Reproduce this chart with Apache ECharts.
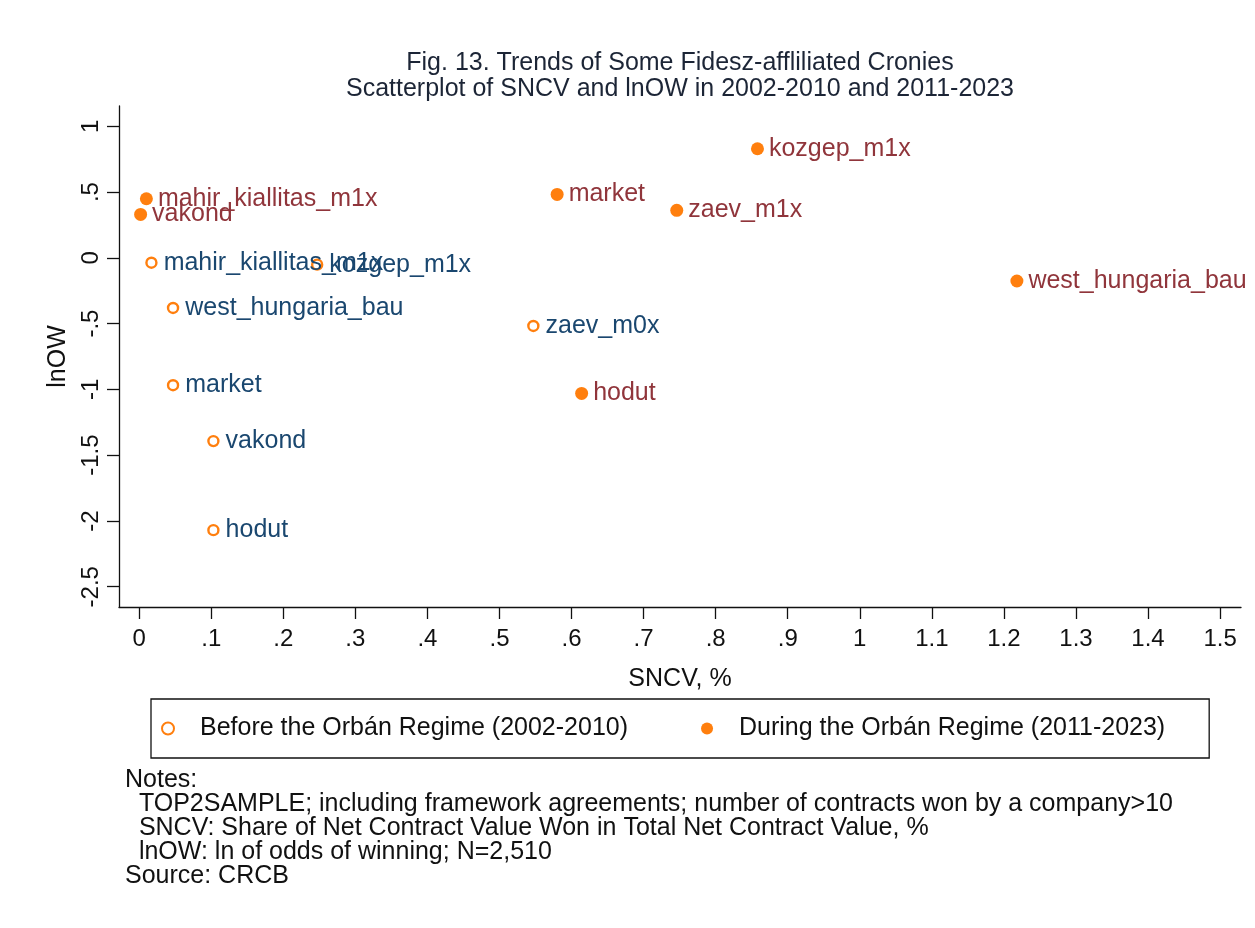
<!DOCTYPE html>
<html>
<head>
<meta charset="utf-8">
<script src="https://cdn.jsdelivr.net/npm/echarts@6/dist/echarts.min.js"></script>
<style>
  html, body { margin: 0; padding: 0; background: #fff; }
  #chart { width: 1255px; height: 928px; }
</style>
</head>
<body>
<div id="chart"></div>
<script>
// tick positions
const xTicks = [0, 0.1, 0.2, 0.3, 0.4, 0.5, 0.6, 0.7, 0.8, 0.9, 1, 1.1, 1.2, 1.3, 1.4, 1.5];
const yTicks = [-2.5, -2, -1.5, -1, -0.5, 0, 0.5, 1];

// 2002-2010
const beforeNames = ['mahir_kiallitas_m1x', 'kozgep_m1x', 'west_hungaria_bau', 'zaev_m0x', 'market', 'vakond', 'hodut'];
const beforeSNCV = [0.017, 0.247, 0.047, 0.547, 0.047, 0.103, 0.103];
const beforeLnOW = [-0.037, -0.052, -0.381, -0.518, -0.968, -1.393, -2.07];

// 2011-2023
const duringNames = ['mahir_kiallitas_m1x', 'vakond', 'market', 'zaev_m1x', 'kozgep_m1x', 'west_hungaria_bau', 'hodut'];
const duringSNCV = [0.010, 0.002, 0.580, 0.746, 0.858, 1.218, 0.614];
const duringLnOW = [0.449, 0.33, 0.482, 0.361, 0.829, -0.176, -1.031];

const FONT = '"Liberation Sans", Arial, sans-serif';
const ORANGE = '#ff7f0e';

// stata style: drop the leading zero
const stataNum = v => String(v).replace(/^(-?)0\./, '$1.');

const chart = echarts.init(document.getElementById('chart'));

const option = {
  animation: false,
  textStyle: { fontFamily: FONT },
  grid: { left: 119, right: 14, top: 106, bottom: 321 },
  xAxis: {
    type: 'value',
    min: -0.028,
    max: 1.529,
    name: 'SNCV, %',
    nameLocation: 'middle',
    nameGap: 60,
    nameTextStyle: { fontSize: 25, color: '#111', fontFamily: FONT },
    axisLine: { show: true, onZero: false, lineStyle: { color: '#111', width: 1.3 } },
    axisTick: { show: true, length: 12, lineStyle: { color: '#111', width: 1.3 }, customValues: xTicks },
    axisLabel: { fontSize: 24, color: '#111', margin: 20, formatter: stataNum, customValues: xTicks },
    splitLine: { show: false }
  },
  yAxis: {
    type: 'value',
    min: -2.654,
    max: 1.154,
    name: 'lnOW',
    nameLocation: 'middle',
    nameGap: 47,
    nameTextStyle: { fontSize: 25, color: '#111', fontFamily: FONT },
    axisLine: { show: true, onZero: false, lineStyle: { color: '#111', width: 1.3 } },
    axisTick: { show: true, length: 12, lineStyle: { color: '#111', width: 1.3 }, customValues: yTicks },
    axisLabel: { fontSize: 24, color: '#111', margin: 16, rotate: 90, formatter: stataNum, customValues: yTicks },
    splitLine: { show: false }
  },
  legend: {
    left: 151,
    top: 699,
    padding: [17, 44, 17, 10],
    borderColor: '#111',
    borderWidth: 1.3,
    itemGap: 73,
    itemWidth: 14,
    itemHeight: 12,
    textStyle: { fontSize: 25, color: '#111', padding: [0, 0, 0, 20], fontFamily: FONT },
    data: ['Before the Orbán Regime (2002-2010)', 'During the Orbán Regime (2011-2023)']
  },
  graphic: [
    {
      type: 'text',
      x: 680,
      y: 50,
      style: {
        text: 'Fig. 13. Trends of Some Fidesz-affliliated Cronies\nScatterplot of SNCV and lnOW in 2002-2010 and 2011-2023',
        textAlign: 'center',
        font: '25px ' + FONT,
        lineHeight: 26,
        fill: '#1c2536'
      }
    },
    {
      type: 'text',
      left: 125,
      top: 768,
      style: {
        text: 'Notes:\n  TOP2SAMPLE; including framework agreements; number of contracts won by a company>10\n  SNCV: Share of Net Contract Value Won in Total Net Contract Value, %\n  lnOW: ln of odds of winning; N=2,510\nSource: CRCB',
        font: '25px ' + FONT,
        lineHeight: 24,
        fill: '#111'
      }
    }
  ],
  series: [
    {
      name: 'Before the Orbán Regime (2002-2010)',
      type: 'scatter',
      symbol: 'circle',
      symbolSize: 10,
      itemStyle: { color: '#fff', borderColor: ORANGE, borderWidth: 2.4, opacity: 1 },
      label: {
        show: true,
        position: 'right',
        distance: 6,
        fontSize: 25,
        color: '#1a476f',
        fontFamily: FONT,
        formatter: p => p.data[2]
      },
      data: beforeNames.map((n, i) => [beforeSNCV[i], beforeLnOW[i], n])
    },
    {
      name: 'During the Orbán Regime (2011-2023)',
      type: 'scatter',
      symbol: 'circle',
      symbolSize: 13,
      itemStyle: { color: ORANGE, opacity: 1 },
      label: {
        show: true,
        position: 'right',
        distance: 5,
        fontSize: 25,
        color: '#90353b',
        fontFamily: FONT,
        formatter: p => p.data[2]
      },
      data: duringNames.map((n, i) => [duringSNCV[i], duringLnOW[i], n])
    }
  ]
};

chart.setOption(option);
</script>
</body>
</html>
